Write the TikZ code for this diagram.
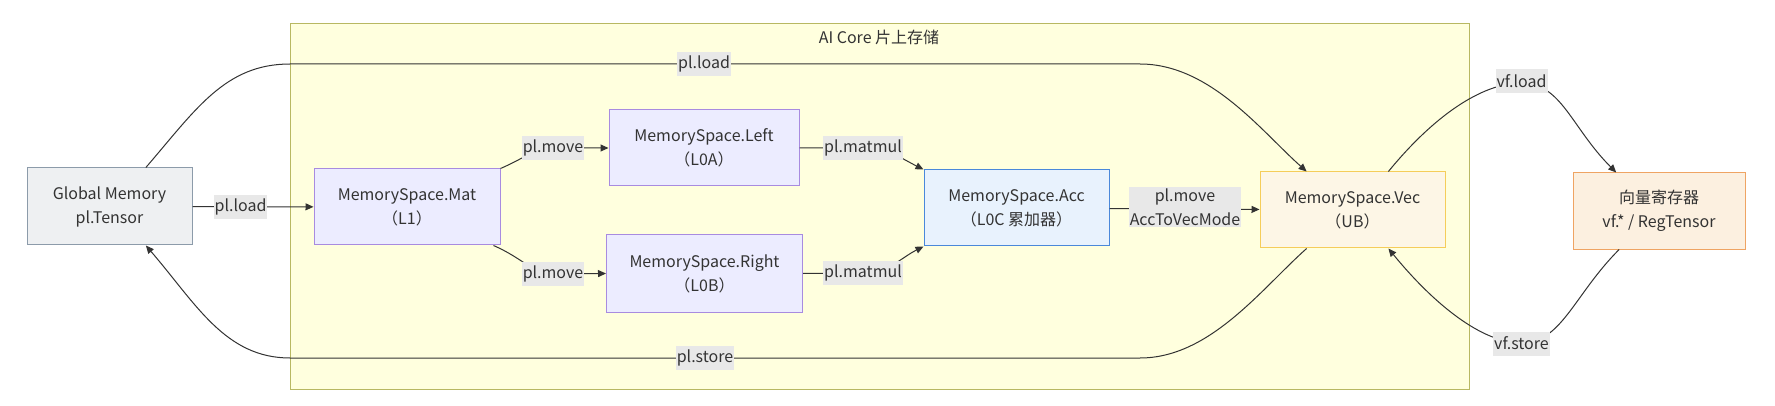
\documentclass[tikz,border=0pt]{standalone}
\usepackage{fontspec}
\setmainfont{Noto Sans CJK SC}
\usetikzlibrary{arrows.meta}

\definecolor{inkgray}{HTML}{333333}
\definecolor{lblbg}{HTML}{E8E8E8}
\definecolor{corefill}{HTML}{FFFFDE}
\definecolor{coredraw}{HTML}{B8B862}
\definecolor{gmfill}{HTML}{EEF0F2}
\definecolor{gmdraw}{HTML}{8C9BAA}
\definecolor{matfill}{HTML}{ECECFF}
\definecolor{matdraw}{HTML}{A88BE0}
\definecolor{accfill}{HTML}{E8F2FD}
\definecolor{accdraw}{HTML}{4A88DA}
\definecolor{vecfill}{HTML}{FDF6E6}
\definecolor{vecdraw}{HTML}{F5CD5A}
\definecolor{regfill}{HTML}{FCF0E0}
\definecolor{regdraw}{HTML}{EFA463}

\begin{document}
\begin{tikzpicture}[
		x=1pt, y=-1pt,
		every node/.style={font=\fontsize{16}{24}\selectfont, text=inkgray, align=center},
		box/.style={rectangle, draw, line width=1pt, minimum height=76pt, inner sep=0pt},
		lbl/.style={fill=lblbg, inner xsep=1pt, inner ysep=0pt, minimum height=24pt},
		wire/.style={draw=inkgray, line width=1pt},
		arr/.style={wire, -{Triangle[length=8pt,width=7pt]}}
	]
  \useasboundingbox (0,0) rectangle (1775,406);

  \node (aicore) [box, fill=corefill, draw=coredraw, minimum width=1179pt, minimum height=365pt] at (879.5,206.5) {};
  \node (coretitle) at (879,37) {AI Core 片上存储};

  \node (gm) [box, fill=gmfill, draw=gmdraw, minimum width=165pt, minimum height=77pt] at (109.5,206.5) {Global Memory\\pl.Tensor};
  \node (mat) [box, fill=matfill, draw=matdraw, minimum width=186pt] at (407,207) {MemorySpace.Mat\\（L1）};
  \node (left) [box, fill=matfill, draw=matdraw, minimum width=190pt] at (704,148) {MemorySpace.Left\\（L0A）};
  \node (right) [box, fill=matfill, draw=matdraw, minimum width=196pt, minimum height=77pt] at (704.5,273.5) {MemorySpace.Right\\（L0B）};
  \node (acc) [box, fill=accfill, draw=accdraw, minimum width=185pt] at (1016.5,208) {MemorySpace.Acc\\（L0C 累加器）};
  \node (vec) [box, fill=vecfill, draw=vecdraw, minimum width=185pt] at (1352.5,210) {MemorySpace.Vec\\（UB）};
  \node (reg) [box, fill=regfill, draw=regdraw, minimum width=172pt] at (1659,211) {向量寄存器\\vf.* / RegTensor};

  \coordinate (ldA) at (290,64);
  \coordinate (ldB) at (1140,64);
  \coordinate (stA) at (290,358);
  \coordinate (stB) at (1140,358);
  \coordinate (mvA) at (553,148);
  \coordinate (mvB) at (553,274);
  \coordinate (mmA) at (863,148);
  \coordinate (mmB) at (863,273);
  \coordinate (vfA) at (1521.5,83);
  \coordinate (vfB) at (1521.5,343);

  \draw[arr] (gm) -- (mat);
  \draw[arr] (mat.north east) .. controls +(30,-13) and +(-20,0) .. (mvA) -- (left.west);
  \draw[arr] (mat.-24) .. controls +(30,13) and +(-20,0) .. (mvB) -- (right.west);
  \draw[arr] (left.east) -- (mmA) .. controls +(25,0) and +(-22,-11) .. (acc.north west);
  \draw[arr] (right.east) -- (mmB) .. controls +(25,0) and +(-22,11) .. (acc.south west);
  \draw[arr] (acc) -- (vec);
  \draw[arr] (gm.47) .. controls +(50,-58) and +(-65,0) .. (ldA) -- (ldB) .. controls +(70,0) and +(-45,-40) .. (vec.140);
  \draw[arr] (vec.220) .. controls +(-45,40) and +(70,0) .. (stB) -- (stA) .. controls +(-65,0) and +(50,58) .. (gm.-47);
  \draw[arr] (vec.47) .. controls +(45,-55) and +(-40,0) .. (vfA) .. controls +(40,0) and +(-45,-45) .. (reg.138);
  \draw[arr] (reg.224) .. controls +(-45,45) and +(40,0) .. (vfB) .. controls +(-40,0) and +(45,55) .. (vec.313);

  \node (lgm) [lbl] at (240.5,207) {pl.load};
  \node (lmvA) [lbl] at (mvA) {pl.move};
  \node (lmvB) [lbl] at (mvB) {pl.move};
  \node (lmmA) [lbl] at (mmA) {pl.matmul};
  \node (lmmB) [lbl] at (mmB) {pl.matmul};
  \node (lacc) [lbl, inner ysep=2pt] at (1185,207) {pl.move\\AccToVecMode};
  \node (lld) [lbl] at (704,64) {pl.load};
  \node (lst) [lbl] at (705,358) {pl.store};
  \node (lvfA) [lbl] at (1521.5,81) {vf.load};
  \node (lvfB) [lbl] at (1521.5,343.5) {vf.store};
\end{tikzpicture}
\end{document}
